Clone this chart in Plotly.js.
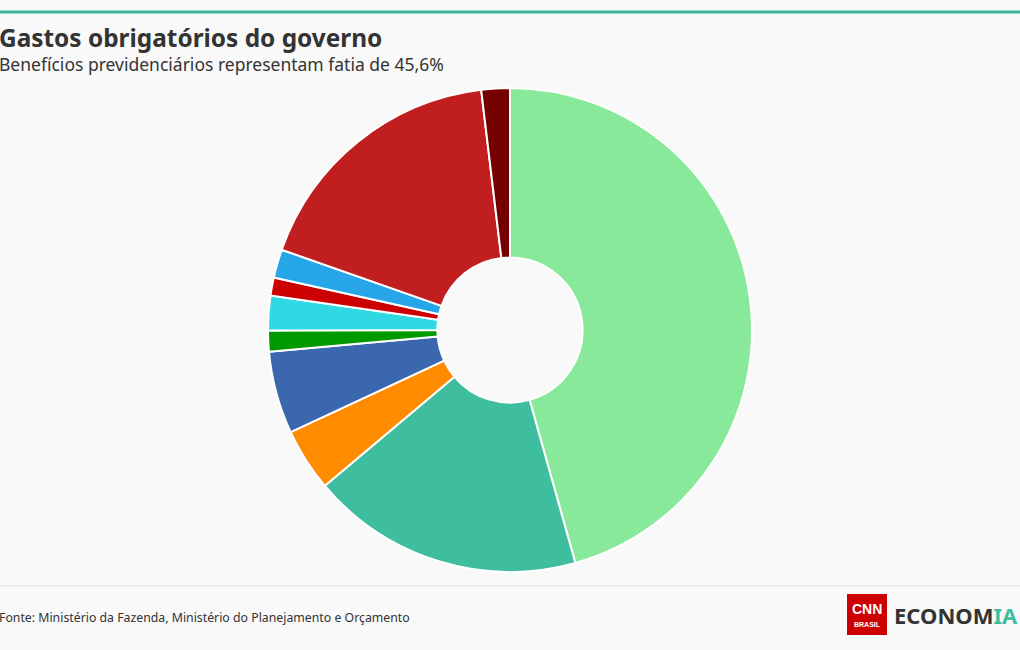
<!DOCTYPE html>
<html>
<head>
<meta charset="utf-8">
<script src="https://cdn.plot.ly/plotly-3.0.1.min.js"></script>
<style>
html,body{margin:0;padding:0;background:#f9f9f9;}
#chart{width:1020px;height:650px;}
</style>
</head>
<body>
<div id="chart"></div>
<script>
const categories = [
  "Benefícios previdenciários",
  "Pessoal e encargos sociais",
  "Abono e seguro-desemprego",
  "BPC/LOAS",
  "Complementação ao Fundeb",
  "Fundo Constitucional do DF",
  "Compensação ao RGPS",
  "Créditos extraordinários",
  "Bolsa Família e demais obrigatórias",
  "Outras despesas"
];
const shares = [45.6, 18.2, 4.2, 5.5, 1.4, 2.3, 1.2, 1.9, 17.7, 1.9];
const colors = ["#89e99a", "#3fbe9f", "#ff8c00", "#3a67ae", "#009900",
                "#2ed9e3", "#cc0000", "#26a6e8", "#c11f1f", "#750000"];

const font = "'Source Sans Pro', 'Noto Sans', Roboto, sans-serif";

const data = [{
  type: "pie",
  labels: categories,
  values: shares,
  sort: false,
  direction: "clockwise",
  rotation: 0,
  hole: 0.3,
  textinfo: "none",
  hovertemplate: "%{label}: %{value:.1f}%<extra></extra>",
  marker: {colors: colors, line: {color: "#ffffff", width: 2}},
  domain: {x: [0, 1], y: [0.12, 0.8646]},
  showlegend: false
}];

const layout = {
  width: 1020, height: 650,
  paper_bgcolor: "#f9f9f9",
  plot_bgcolor: "#f9f9f9",
  margin: {l: 0, r: 0, t: 0, b: 0},
  font: {family: font, color: "#333"},
  shapes: [
    {type: "line", xref: "paper", yref: "paper", x0: 0, x1: 1, y0: 1 - 12/650, y1: 1 - 12/650,
     line: {color: "#3db89b", width: 3}},
    {type: "line", xref: "paper", yref: "paper", x0: 0, x1: 1, y0: 1 - 586/650, y1: 1 - 586/650,
     line: {color: "#dddddd", width: 1}},
    {type: "rect", xref: "paper", yref: "paper", x0: 847/1020, x1: 887/1020, y0: 1 - 635/650, y1: 1 - 594/650,
     fillcolor: "#cc0000", line: {width: 0}}
  ],
  annotations: [
    {text: "<b>Gastos obrigatórios do governo</b>", xref: "paper", yref: "paper",
     x: 0, xshift: -3, y: 1 - 38/650, xanchor: "left", yanchor: "middle", showarrow: false,
     font: {family: font, size: 24.4, color: "#333333"}},
    {text: "Benefícios previdenciários representam fatia de 45,6%", xref: "paper", yref: "paper",
     x: 0, xshift: -3, y: 1 - 64/650, xanchor: "left", yanchor: "middle", showarrow: false,
     font: {family: font, size: 17.5, color: "#333333"}},
    {text: "Fonte: Ministério da Fazenda, Ministério do Planejamento e Orçamento", xref: "paper", yref: "paper",
     x: 0, xshift: -3, y: 1 - 617/650, xanchor: "left", yanchor: "middle", showarrow: false,
     font: {family: font, size: 12.3, color: "#333333"}},
    {text: "<b>CNN</b>", xref: "paper", yref: "paper",
     x: 867/1020, y: 1 - 609/650, xanchor: "center", yanchor: "middle", showarrow: false,
     font: {family: "'Liberation Sans', Arial, sans-serif", size: 14, color: "#ffffff"}},
    {text: "<b>BRASIL</b>", xref: "paper", yref: "paper",
     x: 867/1020, y: 1 - 624/650, xanchor: "center", yanchor: "middle", showarrow: false,
     font: {family: "'Liberation Sans', Arial, sans-serif", size: 7, color: "#ffffff"}},
    {text: "<b>ECONOM<span style='color:#3fbe9f'>IA</span></b>", xref: "paper", yref: "paper",
     x: 1, xshift: 0, y: 1 - 615/650, xanchor: "right", yanchor: "middle", showarrow: false,
     font: {family: font, size: 22, color: "#333333"}}
  ]
};

Plotly.newPlot("chart", data, layout, {displayModeBar: false, responsive: false});
</script>
</body>
</html>
